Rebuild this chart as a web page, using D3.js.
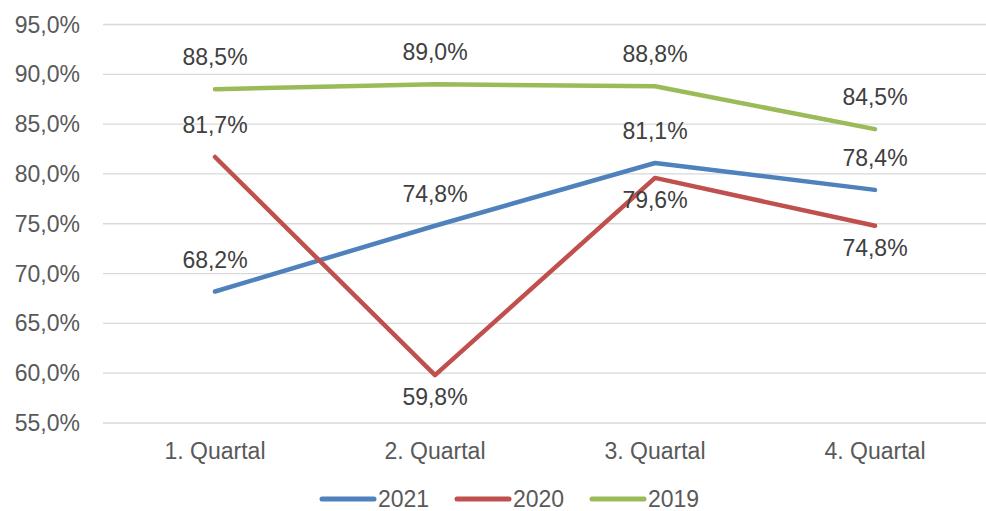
<!DOCTYPE html>
<html>
<head>
<meta charset="utf-8">
<script src="https://cdn.jsdelivr.net/npm/d3@7"></script>
<style>
  html, body { margin: 0; padding: 0; background: #fff; }
  svg { display: block; font-family: "Liberation Sans", Arial, sans-serif; }
</style>
</head>
<body>
<svg id="chart" width="986" height="511"></svg>
<script>
// Quarterly rates per year (percent)
const categories = ["1. Quartal", "2. Quartal", "3. Quartal", "4. Quartal"];
const values2021 = [68.2, 74.8, 81.1, 78.4];
const values2020 = [81.7, 59.8, 79.6, 74.8];
const values2019 = [88.5, 89.0, 88.8, 84.5];
const yTicks = [55, 60, 65, 70, 75, 80, 85, 90, 95];

// label placement per point: "above" or "below"
const series = [
  { name: "2021", values: values2021, color: "#4f81bd", pos: ["above", "above", "above", "above"] },
  { name: "2020", values: values2020, color: "#c0504d", pos: ["above", "below", "below", "below"] },
  { name: "2019", values: values2019, color: "#9bbb59", pos: ["above", "above", "above", "above"] }
];

const fmt = v => v.toFixed(1).replace(".", ",") + "%";

const svg = d3.select("#chart");
const plotLeft = 105, plotRight = 985, plotTop = 24.5, plotBottom = 423;

const x = d3.scaleBand().domain(categories).range([plotLeft, plotRight]);
const y = d3.scaleLinear().domain([55, 95]).range([plotBottom, plotTop]);

// gridlines
svg.append("g").selectAll("line").data(yTicks).join("line")
  .attr("x1", plotLeft - 2).attr("x2", 986)
  .attr("y1", d => y(d)).attr("y2", d => y(d))
  .attr("stroke", "#d9d9d9").attr("stroke-width", 1.3);

// y axis labels
svg.append("g").selectAll("text").data(yTicks).join("text")
  .attr("x", 80).attr("y", d => y(d)).attr("dy", "0.35em")
  .attr("text-anchor", "end").attr("fill", "#595959")
  .style("font-size", "23px").text(fmt);

// x axis labels
svg.append("g").selectAll("text").data(categories).join("text")
  .attr("x", d => x(d) + x.bandwidth() / 2).attr("y", 451).attr("dy", "0.35em")
  .attr("text-anchor", "middle").attr("fill", "#595959")
  .style("font-size", "23px").text(d => d);

const line = d3.line()
  .x((d, i) => x(categories[i]) + x.bandwidth() / 2)
  .y(d => y(d));

// series lines
svg.append("g").selectAll("path").data(series).join("path")
  .attr("d", s => line(s.values))
  .attr("fill", "none").attr("stroke", s => s.color)
  .attr("stroke-width", 4.5).attr("stroke-linecap", "round").attr("stroke-linejoin", "round");

// data labels
series.forEach(s => {
  svg.append("g").selectAll("text").data(s.values).join("text")
    .attr("x", (d, i) => x(categories[i]) + x.bandwidth() / 2)
    .attr("y", (d, i) => y(d) + (s.pos[i] === "above" ? -32 : 22))
    .attr("dy", "0.35em")
    .attr("text-anchor", "middle").attr("fill", "#404040")
    .style("font-size", "23px").text(fmt);
});

// legend
const legend = svg.append("g");
const legendX = [320, 455, 590];
series.forEach((s, i) => {
  legend.append("line")
    .attr("x1", legendX[i] + 2).attr("x2", legendX[i] + 54)
    .attr("y1", 499).attr("y2", 499)
    .attr("stroke", s.color).attr("stroke-width", 5).attr("stroke-linecap", "round");
  legend.append("text")
    .attr("x", legendX[i] + 58).attr("y", 499).attr("dy", "0.35em")
    .attr("fill", "#595959").style("font-size", "23px").text(s.name);
});
</script>
</body>
</html>
